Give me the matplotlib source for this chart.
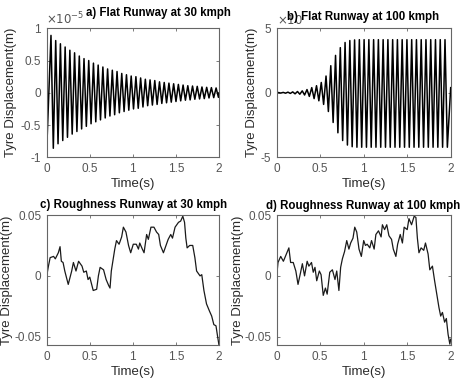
import numpy as np
import matplotlib
matplotlib.use("Agg")
import matplotlib.pyplot as plt
from matplotlib.transforms import blended_transform_factory

plt.rcParams["font.family"] = ["Liberation Sans", "DejaVu Sans"]

# ---- panel a: flat runway 30 kmph (x1e-5), extrema ----
A_START = -0.97
A_PERIOD = 0.0547
A_POS_T0, A_NEG_T0 = 0.052, 0.079
A_POS = [0.89, 0.81, 0.76, 0.71, 0.66, 0.62, 0.57, 0.53, 0.50, 0.46, 0.43, 0.40,
         0.37, 0.35, 0.33, 0.30, 0.28, 0.26, 0.25, 0.23, 0.21, 0.20, 0.19, 0.17,
         0.16, 0.15, 0.14, 0.13, 0.12, 0.11, 0.105, 0.10, 0.09, 0.085, 0.08, 0.075]
A_NEG = [-0.86, -0.79, -0.74, -0.69, -0.64, -0.60, -0.56, -0.52, -0.48, -0.45,
         -0.42, -0.39, -0.36, -0.34, -0.31, -0.29, -0.27, -0.25, -0.24, -0.22,
         -0.20, -0.19, -0.18, -0.165, -0.155, -0.145, -0.135, -0.125, -0.115,
         -0.11, -0.10, -0.095, -0.09, -0.08, -0.075, -0.07]

# ---- panel b: flat runway 100 kmph ----
B_PERIOD = 0.0547
B_POS_T0, B_NEG_T0 = 0.02, 0.047
B_POS = [0.02, 0.03, 0.05, 0.07, 0.10, 0.15, 0.25, 0.40, 0.55, 0.80, 1.30, 2.10,
         2.90, 3.50, 3.90, 4.05, 4.10, 4.12, 4.12, 4.12, 4.12, 4.12, 4.12, 4.12,
         4.12, 4.12, 4.12, 4.12, 4.12, 4.12, 4.12, 4.12, 4.12, 4.12, 4.12, 4.12]
B_NEG = [-0.02, -0.03, -0.05, -0.08, -0.11, -0.17, -0.28, -0.45, -0.62, -0.90,
         -1.45, -2.30, -3.10, -3.70, -4.05, -4.18, -4.22, -4.22, -4.22, -4.22,
         -4.22, -4.22, -4.22, -4.22, -4.22, -4.22, -4.22, -4.22, -4.22, -4.22,
         -4.22, -4.22, -4.22, -4.22, -4.22, -4.22]

# ---- panel c: roughness runway 30 kmph ----
C_T = [0, 0.02, 0.04, 0.08, 0.1, 0.135, 0.155, 0.17, 0.19, 0.21, 0.25, 0.29, 0.31,
       0.34, 0.37, 0.41, 0.43, 0.46, 0.48, 0.5, 0.54, 0.58, 0.6, 0.62, 0.66, 0.69,
       0.72, 0.735, 0.75, 0.79, 0.81, 0.84, 0.87, 0.89, 0.92, 0.95, 0.975, 1.005,
       1.04, 1.065, 1.08, 1.11, 1.13, 1.16, 1.18, 1.21, 1.245, 1.275, 1.3, 1.32,
       1.355, 1.385, 1.41, 1.44, 1.46, 1.49, 1.53, 1.555, 1.58, 1.6, 1.615, 1.63,
       1.66, 1.695, 1.72, 1.74, 1.78, 1.8, 1.825, 1.855, 1.89, 1.915, 1.94, 1.965,
       1.98, 2.0]
C_Y = [0, 0.008, 0.015, 0.016, 0.014, 0.019, 0.024, 0.012, 0.011, 0.004, -0.007,
       0.004, 0.011, 0.004, 0.012, 0.008, 0.003, 0.004, -0.003, -0.001, -0.012,
       -0.011, 0, 0.007, 0.005, -0.003, -0.008, -0.010, 0.004, 0.022, 0.029, 0.026,
       0.032, 0.040, 0.036, 0.025, 0.019, 0.026, 0.026, 0.022, 0.027, 0.022, 0.019,
       0.034, 0.030, 0.040, 0.040, 0.036, 0.034, 0.025, 0.019, 0.025, 0.030, 0.034,
       0.031, 0.040, 0.044, 0.045, 0.049, 0.044, 0.031, 0.023, 0.025, 0.025, 0.015,
       0.004, 0, 0.001, -0.012, -0.023, -0.029, -0.033, -0.040, -0.041, -0.048,
       -0.057]

# ---- panel d: roughness runway 100 kmph ----
D_T = [0, 0.015, 0.046, 0.077, 0.1, 0.14, 0.16, 0.19, 0.22, 0.245, 0.275, 0.295,
       0.32, 0.35, 0.37, 0.4, 0.42, 0.44, 0.46, 0.49, 0.51, 0.535, 0.56, 0.58, 0.61,
       0.64, 0.67, 0.69, 0.715, 0.735, 0.755, 0.78, 0.805, 0.83, 0.85, 0.877, 0.897,
       0.92, 0.946, 0.973, 1.0, 1.02, 1.04, 1.07, 1.09, 1.12, 1.14, 1.17, 1.2,
       1.215, 1.24, 1.265, 1.29, 1.32, 1.34, 1.37, 1.39, 1.42, 1.445, 1.465, 1.5,
       1.52, 1.55, 1.58, 1.6, 1.617, 1.635, 1.66, 1.69, 1.71, 1.74, 1.76, 1.79,
       1.815, 1.84, 1.865, 1.885, 1.905, 1.93, 1.95, 1.97, 1.99, 2.0]
D_Y = [0, 0.011, 0.016, 0.012, 0.016, 0.023, 0.011, 0.011, 0.004, -0.007, 0.003,
       0.010, 0, 0.012, 0.008, 0.011, 0.003, 0.007, -0.004, 0.004, 0.001, -0.016,
       -0.010, -0.015, 0.003, 0.005, -0.003, 0.004, -0.012, 0.007, 0.014, 0.020,
       0.029, 0.022, 0.027, 0.031, 0.040, 0.036, 0.022, 0.016, 0.029, 0.025, 0.026,
       0.023, 0.029, 0.022, 0.034, 0.037, 0.032, 0.042, 0.038, 0.042, 0.033, 0.030,
       0.022, 0.016, 0.026, 0.034, 0.027, 0.040, 0.038, 0.047, 0.042, 0.049, 0.048,
       0.031, 0.019, 0.023, 0.021, 0.027, 0.018, 0.005, 0.008, -0.004, -0.015,
       -0.026, -0.033, -0.030, -0.038, -0.035, -0.048, -0.056, -0.052]

TITLES = ["a) Flat Runway at 30 kmph", "b) Flat Runway at 100 kmph",
          "c) Roughness Runway at 30 kmph", "d) Roughness Runway at 100 kmph"]
XTICKS = [0, 0.5, 1, 1.5, 2]
XTICKLABELS = ["0", "0.5", "1", "1.5", "2"]

GREY = "#555555"
DARK = "#2b2b2b"
W, H = 468.0, 382.0


def zigzag(start, pos, neg, t_pos0, t_neg0, period, end=None):
    ts, ys = [0.0], [start]
    for k in range(max(len(pos), len(neg))):
        if k < len(pos):
            ts.append(t_pos0 + k * period)
            ys.append(pos[k])
        if k < len(neg):
            ts.append(t_neg0 + k * period)
            ys.append(neg[k])
    if end is not None:
        ts.append(2.0)
        ys.append(end)
    return np.array(ts), np.array(ys)


def style(ax, ylabel_x):
    ax.set_xlim(0, 2)
    ax.set_xticks(XTICKS)
    ax.set_xticklabels(XTICKLABELS)
    ax.tick_params(direction="in", length=2.5, width=0.6, colors="#666666",
                   labelcolor=GREY, labelsize=8.5, pad=4, top=True, right=True)
    for s in ax.spines.values():
        s.set_color("#666666")
        s.set_linewidth(0.8)
    ax.set_xlabel("Time(s)", fontsize=9.5, color=DARK, labelpad=2)
    ax.set_ylabel("Tyre Displacement(m)", fontsize=9.5, color=DARK)
    tr = blended_transform_factory(fig.transFigure, ax.transAxes)
    ax.yaxis.set_label_coords(ylabel_x / W, 0.5, transform=tr)
    ax.yaxis.label.set_va("center")


fig = plt.figure(figsize=(4.68, 3.82), dpi=100)


def add_axes(x0, x1, ytop, ybot):
    return fig.add_axes([x0 / W, 1 - ybot / H, (x1 - x0) / W, (ybot - ytop) / H])


axa = add_axes(46.5, 219, 28.3, 157.3)
axb = add_axes(276.7, 450.7, 28.3, 157.3)
axc = add_axes(46.7, 219, 215, 345.3)
axd = add_axes(276.7, 450.7, 215, 345.3)

# a
t, y = zigzag(A_START, A_POS, A_NEG, A_POS_T0, A_NEG_T0, A_PERIOD, end=0.0)
axa.plot(t, y, color="black", lw=1.1)
axa.set_ylim(-1, 1)
axa.set_yticks([-1, -0.5, 0, 0.5, 1])
axa.set_yticklabels(["-1", "-0.5", "0", "0.5", "1"])
style(axa, 11)
axa.text(0.0, 1.01, r"$\times10^{-5}$", transform=axa.transAxes, fontsize=8.5,
         color=GREY, ha="left", va="bottom")
axa.text(158 / W, 1 - 13 / H, TITLES[0], transform=fig.transFigure, ha="center",
         va="center", fontsize=8.3, fontweight="bold")

# b
t, y = zigzag(0.0, B_POS, B_NEG, B_POS_T0, B_NEG_T0, B_PERIOD, end=0.4)
axb.plot(t, y, color="black", lw=1.1)
axb.set_ylim(-5, 5)
axb.set_yticks([-5, 0, 5])
axb.set_yticklabels(["-5", "0", "5"])
style(axb, 252)
axb.text(0.0, 1.01, r"$\times10$", transform=axb.transAxes, fontsize=8.5,
         color=GREY, ha="left", va="bottom", zorder=1)
axb.text(363.5 / W, 1 - 17 / H, TITLES[1], transform=fig.transFigure, ha="center",
         va="center", fontsize=8.3, fontweight="bold", zorder=5)

# c
axc.plot(C_T, C_Y, color="#1a1a1a", lw=0.9)
axc.set_ylim(-0.057, 0.05)
axc.set_yticks([-0.05, 0, 0.05])
axc.set_yticklabels(["-0.05", "0", "0.05"])
style(axc, 7.5)
axc.text(134 / W, 1 - 205 / H, TITLES[2], transform=fig.transFigure, ha="center",
         va="center", fontsize=8.3, fontweight="bold")

# d
axd.plot(D_T, D_Y, color="#1a1a1a", lw=0.9)
axd.set_ylim(-0.057, 0.05)
axd.set_yticks([-0.05, 0, 0.05])
axd.set_yticklabels(["-0.05", "0", "0.05"])
style(axd, 237.5)
axd.text(363 / W, 1 - 206 / H, TITLES[3], transform=fig.transFigure, ha="center",
         va="center", fontsize=8.3, fontweight="bold")

fig.savefig("out.png", dpi=100, facecolor="white")
